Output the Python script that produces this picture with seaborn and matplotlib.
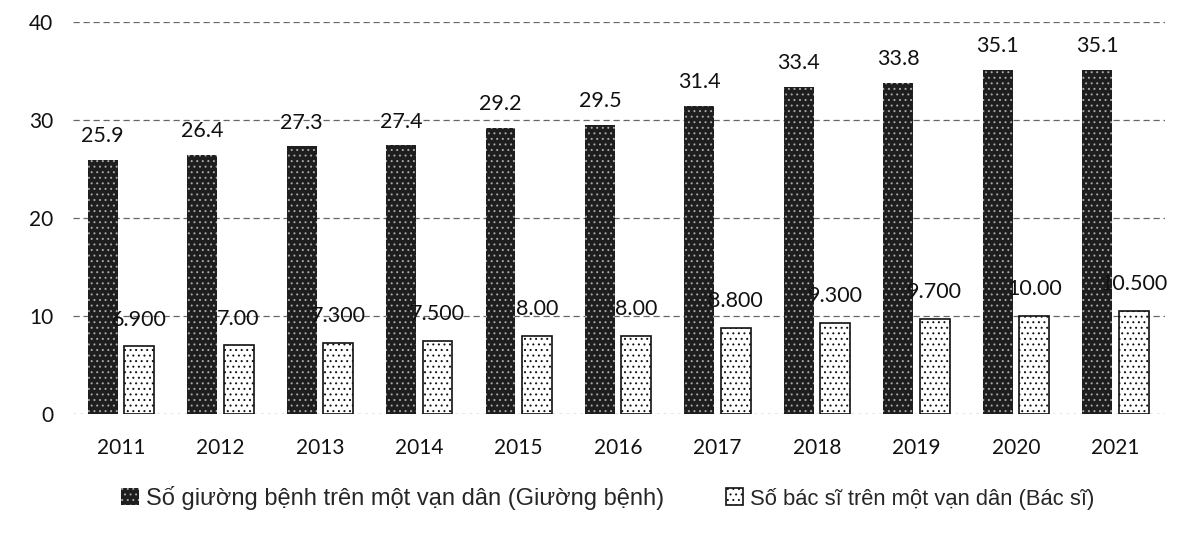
import pandas as pd
import matplotlib.pyplot as plt
import seaborn as sns

years = ["2011", "2012", "2013", "2014", "2015", "2016", "2017", "2018", "2019", "2020", "2021"]
beds = [25.9, 26.4, 27.3, 27.4, 29.2, 29.5, 31.4, 33.4, 33.8, 35.1, 35.1]
doctors = [6.9, 7.0, 7.3, 7.5, 8.0, 8.0, 8.8, 9.3, 9.7, 10.0, 10.5]
bed_labels = ["25.9", "26.4", "27.3", "27.4", "29.2", "29.5", "31.4", "33.4", "33.8", "35.1", "35.1"]
doctor_labels = ["6.900", "7.00", "7.300", "7.500", "8.00", "8.00", "8.800", "9.300", "9.700", "10.00", "10.500"]

BED_NAME = "Số giường bệnh trên một vạn dân (Giường bệnh)"
DOC_NAME = "Số bác sĩ trên một vạn dân (Bác sĩ)"

df = pd.DataFrame({
    "year": years * 2,
    "value": beds + doctors,
    "series": [BED_NAME] * len(years) + [DOC_NAME] * len(years),
})

sns.set_theme(style="white")
plt.rcParams["font.family"] = ["Lato", "DejaVu Sans"]
plt.rcParams["hatch.linewidth"] = 0.7

fig = plt.figure(figsize=(11.95, 5.33), dpi=100)
ax = fig.add_axes([0.061, 0.223, 0.914, 0.736])

sns.barplot(
    data=df, x="year", y="value", hue="series",
    palette=["#1e1e1e", "#ffffff"],
    width=0.734, gap=0.18, ax=ax, legend=False,
)

dark_bars, light_bars = ax.containers[0], ax.containers[1]
for p in dark_bars:
    p.set_edgecolor("#a8a8a8")
    p.set_hatch("...")
    p.set_linewidth(0)
for p in light_bars:
    p.set_edgecolor("#111111")
    p.set_hatch("...")
    p.set_linewidth(1.2)

ax.bar_label(dark_bars, labels=bed_labels, padding=10, fontsize=15.5, color="#111111")
ax.bar_label(light_bars, labels=doctor_labels, padding=12, fontsize=15.5, color="#111111")

ax.set_ylim(0, 40)
ax.set_yticks([0, 10, 20, 30, 40])
ax.set_xlim(-0.483, 10.5)
for y in [10, 20, 30, 40]:
    ax.axhline(y, color="#666666", lw=0.9, ls=(0, (5, 3)), zorder=0)
ax.axhline(0, color="#888888", lw=1.0, ls=(0, (2, 3)), zorder=0)

sns.despine(ax=ax, left=True, bottom=True)
ax.set_xlabel("")
ax.set_ylabel("")
ax.tick_params(axis="both", length=0, labelsize=15, colors="#111111")
ax.tick_params(axis="x", pad=17)
ax.tick_params(axis="y", pad=14)

leg = ax.legend(
    [dark_bars[0], light_bars[0]], [BED_NAME, DOC_NAME],
    loc="center", bbox_to_anchor=(0.49, -0.213), ncol=2, frameon=False,
    handlelength=0.75, handleheight=0.75, handletextpad=0.3, columnspacing=2.6,
    prop={"family": "Liberation Sans", "size": 17},
)
leg.get_texts()[1].set_fontsize(15.8)

fig.savefig("out.png", dpi=100)
